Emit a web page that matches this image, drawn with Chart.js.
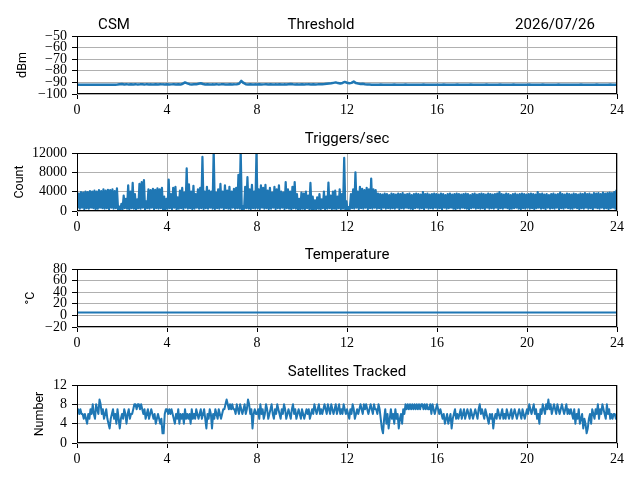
<!DOCTYPE html>
<html>
<head>
<meta charset="utf-8">
<script src="https://cdn.jsdelivr.net/npm/chart.js@4.4.1/dist/chart.umd.min.js"></script>
<style>
  html, body { margin: 0; padding: 0; background: #fff; }
  #fig { position: relative; width: 640px; height: 480px; overflow: hidden; }
  .panel { position: absolute; left: 0; width: 640px; height: 116px; }
</style>
</head>
<body>
<div id="fig">
  <div class="panel" style="top:6px"><canvas id="thrChart" width="640" height="116"></canvas></div>
  <div class="panel" style="top:123px"><canvas id="trigChart" width="640" height="116"></canvas></div>
  <div class="panel" style="top:239px"><canvas id="tempChart" width="640" height="116"></canvas></div>
  <div class="panel" style="top:355px"><canvas id="satChart" width="640" height="116"></canvas></div>
</div>
<script>
// x axis (hours of the day)
const hourTicks = [0, 4, 8, 12, 16, 20, 24];

// Threshold (dBm), one sample every 0.1 h
const thrStep = 0.1;
const thrTicks = [-100, -90, -80, -70, -60, -50];
const thrValues = [
  -92.1, -92.0, -92.1, -92.0, -92.0, -92.1, -92.0, -92.0, -92.1, -92.0,
  -92.0, -92.1, -92.0, -92.0, -92.1, -92.0, -92.0, -92.1, -91.9, -91.6,
  -91.4, -91.8, -91.5, -91.9, -91.6, -91.8, -91.5, -91.9, -91.7, -91.6,
  -91.9, -91.5, -91.8, -91.7, -91.9, -91.6, -91.8, -91.5, -91.7, -91.8,
  -91.6, -91.9, -91.7, -91.5, -91.8, -91.6, -91.9, -91.2, -90.0, -90.8,
  -91.5, -91.8, -91.6, -91.7, -91.2, -90.7, -91.4, -91.8, -91.6, -91.9,
  -91.7, -91.8, -91.5, -91.9, -91.7, -91.6, -91.8, -91.9, -91.6, -91.8,
  -91.7, -91.5, -91.2, -88.7, -90.5, -91.5, -91.8, -91.6, -91.9, -91.7,
  -91.8, -91.6, -91.9, -91.7, -91.5, -91.8, -91.6, -91.9, -91.7, -91.8,
  -91.6, -91.9, -91.7, -91.8, -91.5, -91.3, -91.6, -91.8, -91.7, -91.9,
  -91.6, -91.8, -91.7, -91.5, -91.8, -91.6, -91.9, -91.7, -91.6, -91.5,
  -91.4, -91.2, -91.0, -90.8, -90.4, -90.0, -90.6, -91.0, -90.5, -89.6,
  -90.3, -90.8, -90.4, -89.3, -90.6, -91.0, -91.3, -91.2, -91.6, -91.8,
  -91.9, -92.0, -92.0, -92.1, -92.0, -91.9, -92.0, -92.0, -92.1, -92.0,
  -92.0, -91.9, -92.0, -92.1, -92.0, -92.0, -91.9, -92.0, -92.0, -92.1,
  -92.0, -92.0, -92.1, -92.0, -91.9, -92.0, -92.0, -92.1, -92.0, -92.0,
  -92.1, -92.0, -92.0, -91.9, -92.0, -92.0, -92.1, -92.0, -92.0, -91.9,
  -92.0, -92.1, -92.0, -92.0, -92.0, -91.9, -92.0, -92.1, -92.0, -92.0,
  -92.0, -92.0, -91.9, -92.0, -92.1, -92.0, -92.0, -92.0, -91.9, -92.0,
  -92.1, -92.0, -92.0, -92.0, -91.9, -92.0, -92.0, -92.1, -92.0, -92.0,
  -92.0, -91.9, -92.0, -92.0, -92.1, -92.0, -92.0, -91.9, -92.0, -92.0,
  -92.1, -92.0, -92.0, -92.0, -91.9, -92.0, -92.1, -92.0, -92.0, -92.0,
  -92.0, -92.0, -92.1, -92.0, -91.9, -92.0, -92.0, -92.0, -92.1, -92.0,
  -92.0, -91.9, -92.0, -92.1, -92.0, -92.0, -92.0, -91.9, -92.0, -92.0,
  -92.0
];

// Triggers/sec: per 0.1 h bin, lowest and highest count seen in the bin
const trigBin = 0.1;
const trigTicks = [0, 4000, 8000, 12000];
const trigLow = [
  600, 500, 700, 400, 600, 500, 700, 600, 400, 500, 700, 600, 500, 600, 400, 700, 500, 600, 300, 200,
  400, 600, 500, 300, 600, 500, 200, 600, 500, 700, 300, 600, 500, 700, 400, 600, 500, 600, 300, 200,
  500, 600, 400, 700, 300, 500, 600, 400, 700, 500, 600, 400, 500, 700, 500, 600, 400, 600, 500, 700,
  500, 400, 600, 500, 700, 400, 600, 500, 400, 700, 500, 600, 500, 100, 400, 600, 500, 400, 600, 500,
  600, 400, 700, 500, 600, 400, 500, 700, 400, 600, 500, 700, 400, 600, 500, 300, 600, 500, 200, 400,
  500, 300, 600, 400, 200, 300, 400, 500, 200, 600, 400, 500, 600, 400, 500, 300, 600, 400, 500, 200,
  100, 400, 600, 500, 700, 400, 600, 500, 700, 400, 600, 500, 700, 500, 600, 400, 700, 500, 600, 500,
  600, 500, 700, 400, 600, 500, 700, 600, 500, 400, 600, 700, 500, 600, 400, 700, 500, 600, 500, 700,
  500, 600, 400, 700, 500, 600, 700, 500, 400, 600, 500, 700, 600, 500, 400, 600, 700, 500, 600, 500,
  600, 400, 700, 500, 600, 500, 700, 400, 600, 500, 700, 600, 400, 500, 600, 700, 500, 400, 600, 500,
  700, 500, 600, 400, 600, 700, 500, 600, 400, 700, 500, 600, 500, 700, 400, 600, 500, 700, 600, 500,
  500, 700, 600, 400, 600, 500, 700, 500, 600, 400, 700, 600, 500, 700, 500, 600, 400, 600, 700, 500
];
const trigHigh = [
  3600, 3900, 3800, 4000, 3900, 4100, 4000, 4200, 4000, 4300, 4100, 4500, 4200, 4400, 4300, 4500, 4100, 4700, 900, 1500,
  3200, 2500, 5300, 4000, 5800, 3500, 2400, 5600, 6000, 6400, 2000, 4500, 4300, 4600, 4400, 4700, 4500, 4800, 3000, 2500,
  6500, 3500, 4800, 5000, 2800, 4200, 4800, 3800, 8800, 5500, 4000, 5200, 3500, 4500, 4800, 11200, 4000, 5000, 4200, 4000,
  12600, 3800, 4500, 5600, 4000, 5300, 4200, 5000, 4000, 4600, 4800, 7500, 12600, 1000, 5000, 7000, 4500, 5400, 4000, 11800,
  4500, 5300, 4800, 5400, 4200, 4800, 3800, 5000, 4500, 5300, 4000, 3800, 6000, 4500, 4000, 5000, 6000, 3500, 2500, 3800,
  3600, 4000, 3200, 5800, 3000, 2200, 2800, 3500, 2400, 4000, 3000, 5900, 3200, 4000, 4200, 3000, 4500, 3500, 11000, 2000,
  800, 3500, 4500, 8000, 4000, 5000, 4600, 4300, 4800, 4500, 6700, 4500, 4300, 3600, 3500, 3400, 3600, 3500, 3300, 3600,
  3500, 3400, 3600, 3500, 3700, 3400, 3500, 3600, 3300, 3500, 3600, 3500, 3400, 3900, 3500, 3600, 3400, 3500, 3600, 3500,
  3400, 3600, 3500, 3300, 3500, 3600, 3400, 3500, 3600, 3500, 3400, 3500, 3600, 3500, 3300, 3500, 3600, 3400, 3500, 3600,
  3500, 3400, 3600, 3500, 3400, 3500, 3600, 3900, 3500, 3400, 3600, 3500, 3300, 3500, 3600, 3400, 3500, 3600, 3500, 3400,
  3500, 3600, 3500, 3400, 3900, 3500, 3600, 3400, 3500, 3300, 3500, 3600, 3400, 3500, 3800, 3500, 3400, 3600, 3500, 3400,
  3600, 3500, 3400, 3600, 3500, 3700, 3500, 3600, 3400, 3700, 3600, 3700, 3500, 3800, 3600, 3700, 3800, 3700, 3900, 4400
];

// Temperature (°C), hourly
const tempStep = 1;
const tempTicks = [-20, 0, 20, 40, 60, 80];
const tempValues = [5.0, 5.1, 5.0, 5.0, 4.9, 5.0, 5.1, 5.0, 5.0, 5.1, 5.0, 5.0, 4.9,
  5.0, 5.0, 5.1, 5.0, 5.0, 4.9, 5.0, 5.0, 5.1, 5.0, 5.0, 5.0];

// Satellites tracked, one sample every 0.05 h
const satStep = 0.05;
const satTicks = [0, 4, 8, 12];
const satValues = [
  7, 7, 6, 7, 6, 6, 5, 6, 5, 4, 6, 5, 7, 6, 8, 6, 5, 8, 7, 6,
  9, 8, 6, 7, 5, 6, 7, 5, 4, 3, 5, 6, 7, 5, 6, 4, 7, 5, 3, 5,
  6, 5, 7, 6, 4, 6, 7, 5, 6, 6, 7, 8, 8, 7, 8, 8, 7, 8, 7, 6,
  7, 5, 6, 7, 5, 6, 7, 6, 5, 6, 4, 5, 6, 5, 4, 5, 2, 2, 6, 7,
  7, 6, 7, 6, 7, 6, 5, 4, 6, 5, 7, 4, 6, 5, 6, 4, 7, 5, 6, 5,
  6, 4, 7, 5, 6, 5, 7, 6, 5, 6, 7, 5, 6, 7, 5, 3, 6, 5, 7, 6,
  3, 6, 5, 7, 6, 5, 7, 6, 5, 6, 7, 7, 8, 9, 8, 7, 8, 7, 8, 7,
  7, 6, 8, 7, 6, 8, 7, 6, 7, 8, 6, 7, 9, 8, 6, 7, 3, 6, 7, 6,
  6, 7, 5, 8, 6, 7, 5, 6, 8, 7, 5, 6, 7, 8, 6, 5, 7, 6, 8, 7,
  6, 5, 7, 6, 8, 7, 5, 6, 7, 6, 5, 7, 8, 6, 7, 5, 6, 7, 6, 5,
  7, 6, 5, 6, 7, 6, 7, 5, 6, 7, 6, 8, 7, 6, 7, 8, 6, 7, 6, 7,
  8, 7, 6, 8, 7, 6, 8, 7, 6, 7, 8, 6, 7, 8, 6, 7, 6, 8, 7, 6,
  7, 6, 5, 7, 6, 8, 7, 5, 6, 7, 6, 7, 8, 7, 6, 8, 7, 8, 7, 6,
  7, 8, 7, 6, 8, 7, 7, 6, 8, 7, 5, 3, 2, 5, 7, 4, 6, 3, 5, 7,
  5, 6, 4, 7, 5, 6, 3, 5, 6, 4, 7, 6, 8, 7, 8, 7, 8, 7, 8, 7,
  8, 7, 8, 7, 8, 7, 8, 8, 7, 8, 7, 8, 7, 7, 8, 6, 8, 7, 6, 7,
  8, 7, 6, 7, 6, 5, 6, 4, 5, 6, 4, 5, 6, 3, 5, 6, 7, 5, 6, 5,
  6, 7, 5, 6, 7, 5, 6, 7, 6, 5, 7, 6, 5, 6, 7, 6, 5, 7, 8, 6,
  7, 6, 5, 7, 6, 5, 4, 6, 5, 6, 3, 5, 6, 5, 7, 6, 5, 6, 7, 5,
  6, 5, 7, 6, 5, 6, 7, 5, 6, 7, 6, 5, 6, 7, 6, 5, 7, 6, 5, 6,
  7, 6, 8, 7, 6, 7, 8, 6, 7, 5, 6, 4, 7, 6, 8, 7, 6, 8, 7, 9,
  7, 8, 6, 7, 8, 7, 6, 8, 7, 6, 7, 8, 7, 6, 7, 8, 6, 7, 6, 7,
  6, 5, 7, 4, 6, 5, 7, 4, 5, 6, 3, 5, 4, 2, 3, 5, 6, 4, 7, 6,
  5, 7, 6, 8, 5, 7, 6, 8, 7, 6, 5, 8, 6, 7, 5, 6, 5, 6, 6, 5,
  6
];

const lineBlue = '#1f77b4';
const tickFont = { family: 'Liberation Serif', size: 14 };
const titleFont = '15px Roboto';

// black box round the plot area, like matplotlib spines
const framePlugin = {
  id: 'frame',
  afterDraw(chart) {
    const a = chart.chartArea;
    const ctx = chart.ctx;
    ctx.save();
    ctx.strokeStyle = '#000';
    ctx.lineWidth = 1;
    ctx.strokeRect(Math.round(a.left) + 0.5, Math.round(a.top) + 0.5,
      Math.round(a.right - a.left) - 1, Math.round(a.bottom - a.top) - 1);
    ctx.restore();
  }
};

// panel titles placed by hand
const panelTextPlugin = {
  id: 'panelText',
  afterDraw(chart, args, opts) {
    const ctx = chart.ctx;
    ctx.save();
    ctx.font = titleFont;
    ctx.fillStyle = '#000';
    ctx.textBaseline = 'alphabetic';
    (opts.items || []).forEach(function(it) {
      ctx.textAlign = 'center';
      ctx.fillText(it.text, it.x, it.y);
    });
    ctx.restore();
  }
};

function fmtTick(v) {
  return v < 0 ? '\u2212' + Math.abs(v) : String(v);
}

function toPoints(values, step) {
  return values.map((v, i) => ({ x: i * step, y: v }));
}

function panelOptions(cfg) {
  return {
    responsive: false,
    animation: false,
    layout: { padding: { top: 30, right: 23, bottom: 0, left: 0 } },
    plugins: {
      legend: { display: false },
      tooltip: { enabled: false },
      panelText: { items: cfg.texts }
    },
    scales: {
      x: {
        type: 'linear',
        min: 0,
        max: 24,
        afterBuildTicks: s => { s.ticks = hourTicks.map(v => ({ value: v })); },
        afterFit: s => { s.height = 28; },
        grid: { color: '#b0b0b0', lineWidth: 1, tickColor: '#000', tickLength: 5 },
        border: { display: false },
        ticks: { autoSkip: false, maxRotation: 0, padding: 3, color: '#000', font: tickFont, callback: fmtTick }
      },
      y: {
        min: cfg.yTicks[0],
        max: cfg.yTicks[cfg.yTicks.length - 1],
        afterBuildTicks: s => { s.ticks = cfg.yTicks.map(v => ({ value: v })); },
        afterFit: s => { s.width = 77; },
        grid: { color: '#b0b0b0', lineWidth: 1, tickColor: '#000', tickLength: 5 },
        border: { display: false },
        ticks: { autoSkip: false, padding: 5, color: '#000', font: tickFont, callback: fmtTick },
        title: {
          display: true,
          text: cfg.yLabel,
          color: '#000',
          font: { family: 'Roboto', size: 12.5 },
          padding: { top: cfg.labelPad, bottom: 0 }
        }
      }
    }
  };
}

function lineSet(points, width) {
  return {
    data: points,
    borderColor: lineBlue,
    borderWidth: width,
    pointRadius: 0,
    borderJoinStyle: 'round',
    tension: 0,
    fill: false
  };
}

document.addEventListener('DOMContentLoaded', function() {
  // threshold
  new Chart(document.getElementById('thrChart'), {
    type: 'line',
    data: { datasets: [lineSet(toPoints(thrValues, thrStep), 2.5)] },
    options: panelOptions({
      yTicks: thrTicks, yLabel: 'dBm', labelPad: 15,
      texts: [
        { text: 'CSM', x: 114, y: 22.5 },
        { text: 'Threshold', x: 321, y: 22.5 },
        { text: '2026/07/26', x: 555, y: 22.5 }
      ]
    }),
    plugins: [framePlugin, panelTextPlugin]
  });

  // triggers: low/high of each bin, interleaved
  const trigPoints = [];
  trigHigh.forEach((hi, i) => {
    trigPoints.push({ x: i * trigBin + 0.025, y: trigLow[i] });
    trigPoints.push({ x: i * trigBin + 0.075, y: hi });
  });
  new Chart(document.getElementById('trigChart'), {
    type: 'line',
    data: { datasets: [lineSet(trigPoints, 2.2)] },
    options: panelOptions({
      yTicks: trigTicks, yLabel: 'Count', labelPad: 12,
      texts: [{ text: 'Triggers/sec', x: 347, y: 19.5 }]
    }),
    plugins: [framePlugin, panelTextPlugin]
  });

  // temperature
  new Chart(document.getElementById('tempChart'), {
    type: 'line',
    data: { datasets: [lineSet(toPoints(tempValues, tempStep), 2)] },
    options: panelOptions({
      yTicks: tempTicks, yLabel: '°C', labelPad: 23,
      texts: [{ text: 'Temperature', x: 347, y: 19.5 }]
    }),
    plugins: [framePlugin, panelTextPlugin]
  });

  // satellites
  new Chart(document.getElementById('satChart'), {
    type: 'line',
    data: { datasets: [lineSet(toPoints(satValues, satStep), 2)] },
    options: panelOptions({
      yTicks: satTicks, yLabel: 'Number', labelPad: 32,
      texts: [{ text: 'Satellites Tracked', x: 347, y: 20.5 }]
    }),
    plugins: [framePlugin, panelTextPlugin]
  });
});
</script>
</body>
</html>
